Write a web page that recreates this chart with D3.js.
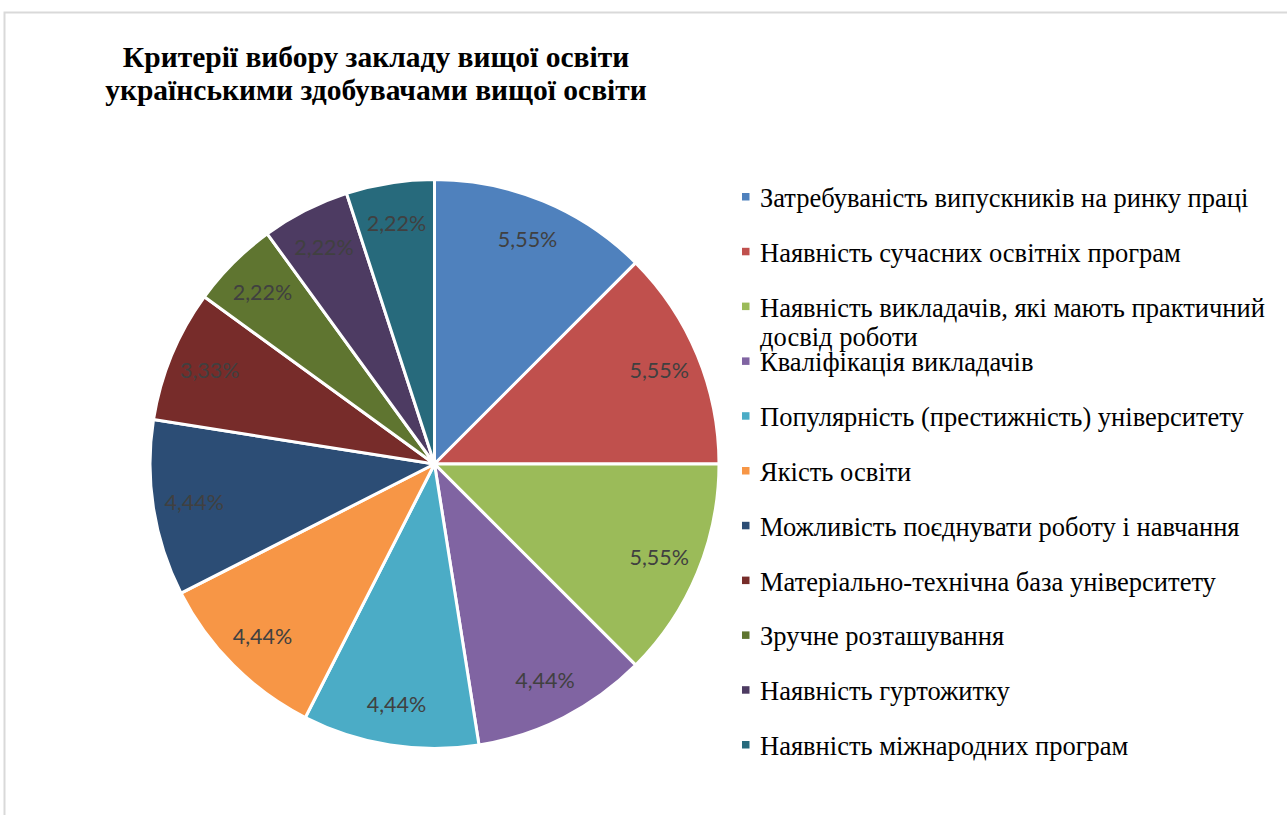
<!DOCTYPE html>
<html>
<head>
<meta charset="utf-8">
<script src="https://cdn.jsdelivr.net/npm/d3@7"></script>
<style>
  body { margin: 0; background: #fff; }
</style>
</head>
<body>
<script>
// chart data
const categories = [
  "Затребуваність випускників на ринку праці",
  "Наявність сучасних освітніх програм",
  "Наявність викладачів, які мають практичний досвід роботи",
  "Кваліфікація викладачів",
  "Популярність (престижність) університету",
  "Якість освіти",
  "Можливість поєднувати роботу і навчання",
  "Матеріально-технічна база університету",
  "Зручне розташування",
  "Наявність гуртожитку",
  "Наявність міжнародних програм"
];
const values = [5.55, 5.55, 5.55, 4.44, 4.44, 4.44, 4.44, 3.33, 2.22, 2.22, 2.22];
const colors = ["#4F81BD", "#C0504D", "#9BBB59", "#8064A2", "#4BACC6", "#F79646",
                "#2C4D75", "#772C2A", "#5F7530", "#4D3B62", "#276A7C"];
const titleLines = ["Критерії вибору закладу вищої освіти", "українськими здобувачами вищої освіти"];

let svg = null;
const W = 1287, H = 815;
const cx = 434.5, cy = 464, radius = 284.5;

appendSvg("body");
appendFrame();
appendTitle();
appendPie();
appendLegend();

function appendSvg(el) {
  svg = d3.select(el).append("svg")
    .attr("width", W)
    .attr("height", H);
}

function appendFrame() {
  svg.append("rect")
    .attr("x", 4.5).attr("y", 12.5)
    .attr("width", W + 10).attr("height", H + 10)
    .attr("fill", "#fff")
    .attr("stroke", "#d9d9d9")
    .attr("stroke-width", 2);
}

function appendTitle() {
  svg.append("text")
    .attr("x", 376)
    .attr("y", 67)
    .attr("text-anchor", "middle")
    .style("font-family", "'Liberation Serif', 'Times New Roman', serif")
    .style("font-weight", "bold")
    .style("font-size", "29.5px")
    .style("fill", "#000")
    .selectAll("tspan")
    .data(titleLines)
    .enter().append("tspan")
      .attr("x", 376)
      .attr("dy", (d, i) => i === 0 ? 0 : 33)
      .text(d => d);
}

function appendPie() {
  const pie = d3.pie().sort(null).value(d => d);
  const arcs = pie(values);
  const arc = d3.arc().innerRadius(0).outerRadius(radius);
  const labelArc = d3.arc().innerRadius(radius * 0.855).outerRadius(radius * 0.855);

  const g = svg.append("g").attr("transform", `translate(${cx}, ${cy})`);

  g.selectAll("path")
    .data(arcs)
    .enter().append("path")
      .attr("d", arc)
      .attr("fill", (d, i) => colors[i])
      .attr("stroke", "#fff")
      .attr("stroke-width", 3)
      .attr("stroke-linejoin", "round");

  g.selectAll("text")
    .data(arcs)
    .enter().append("text")
      .attr("transform", d => `translate(${labelArc.centroid(d)})`)
      .attr("text-anchor", "middle")
      .attr("dy", "0.35em")
      .style("font-family", "Lato, 'Open Sans', sans-serif")
      .style("font-size", "21.5px")
      .style("fill", "#404040")
      .text(d => d.value.toFixed(2).replace(".", ",") + "%");
}

function appendLegend() {
  const x0 = 760, y0 = 207, step = 54.8, maxW = 520;
  const lg = svg.append("g").attr("class", "legend");

  categories.forEach((name, i) => {
    const y = y0 + i * step;
    lg.append("rect")
      .attr("x", 742).attr("y", y - 14)
      .attr("width", 7.5).attr("height", 7.5)
      .attr("fill", colors[i]);

    const t = lg.append("text")
      .attr("x", x0).attr("y", y)
      .style("font-family", "'Liberation Serif', 'Times New Roman', serif")
      .style("font-size", "26.5px")
      .style("fill", "#000");

    // wrap long entries
    const words = name.split(" ");
    let line = [], tspan = t.append("tspan").attr("x", x0);
    words.forEach(w => {
      line.push(w);
      tspan.text(line.join(" "));
      if (tspan.node().getComputedTextLength() > maxW && line.length > 1) {
        line.pop();
        tspan.text(line.join(" "));
        line = [w];
        tspan = t.append("tspan").attr("x", x0).attr("dy", 29).text(w);
      }
    });
  });
}
</script>
</body>
</html>
